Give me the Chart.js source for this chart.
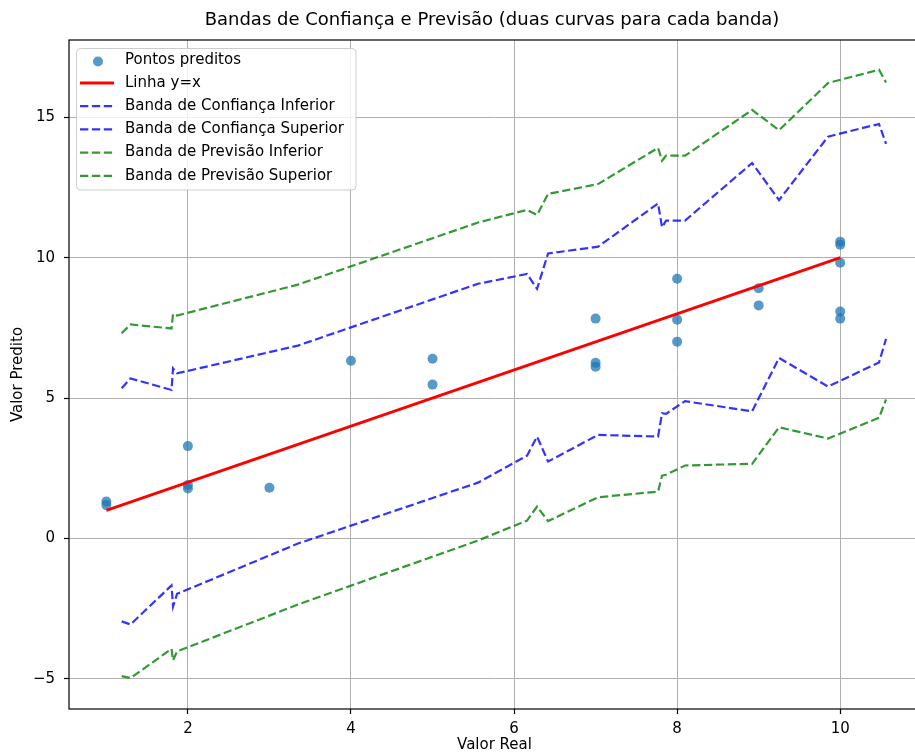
<!DOCTYPE html>
<html>
<head>
<meta charset="utf-8">
<script src="https://cdn.jsdelivr.net/npm/chart.js@4/dist/chart.umd.min.js"></script>
<style>
  html, body { margin: 0; padding: 0; background: #fff; }
  #wrap { width: 915px; height: 754px; overflow: hidden; position: relative; }
  canvas { display: block; }
</style>
</head>
<body>
<div id="wrap"><canvas id="c" width="925" height="754" style="width:925px;height:754px"></canvas></div>
<script>
// ---- data ----
const chartTitle = 'Bandas de Confiança e Previsão (duas curvas para cada banda)';
const xLabel = 'Valor Real';
const yLabel = 'Valor Predito';

const xTicks = [2, 4, 6, 8, 10];
const yTicks = [-5, 0, 5, 10, 15];

const realX = [1, 1, 2, 2, 2, 3, 4, 5, 5, 7, 7, 7, 8, 8, 8, 9, 9, 10, 10, 10, 10, 10];
const predY = [1.32, 1.19, 3.29, 1.91, 1.78, 1.81, 6.33, 6.40, 5.48, 7.83, 6.26, 6.12, 9.25, 7.79, 7.01, 8.91, 8.30, 10.57, 10.46, 9.82, 8.08, 7.83];

const lineX = [1, 10];
const lineY = [1, 10];

const bandX = [1.188, 1.296, 1.799, 1.818, 1.867, 3.350, 5.558, 6.159, 6.282, 6.417, 7.030, 7.766, 7.815, 7.864, 8.097, 8.919, 9.250, 9.851, 10.476, 10.562];
const confLower = [-2.95, -3.06, -1.67, -2.42, -1.97, -0.18, 1.99, 2.95, 3.63, 2.74, 3.69, 3.63, 4.46, 4.44, 4.89, 4.53, 6.43, 5.41, 6.27, 7.11];
const confUpper = [5.35, 5.70, 5.29, 6.06, 5.88, 6.87, 9.07, 9.42, 8.89, 10.15, 10.39, 11.93, 11.08, 11.32, 11.32, 13.37, 12.05, 14.31, 14.76, 14.05];
const predLower = [-4.90, -4.97, -3.93, -4.34, -4.02, -2.35, -0.07, 0.64, 1.14, 0.62, 1.47, 1.67, 2.24, 2.27, 2.60, 2.66, 3.96, 3.56, 4.30, 4.95];
const predUpper = [7.31, 7.62, 7.48, 8.00, 7.94, 9.04, 11.25, 11.70, 11.52, 12.27, 12.62, 13.91, 13.45, 13.63, 13.63, 15.26, 14.54, 16.22, 16.69, 16.24];

const seriesLabels = ['Pontos preditos', 'Linha y=x', 'Banda de Confiança Inferior', 'Banda de Confiança Superior', 'Banda de Previsão Inferior', 'Banda de Previsão Superior'];

// ---- build ----
const pts = (xs, ys) => xs.map((x, i) => ({ x: x, y: ys[i] }));
const FONT = "'DejaVu Sans', sans-serif";
Chart.defaults.font.family = FONT;
Chart.defaults.color = '#000';

const BLUE = 'rgba(0,0,255,0.8)';
const GREEN = 'rgba(0,128,0,0.8)';
const DASH = [8.3, 3.6];

function bandDs(label, ys, color, order) {
  return { type: 'line', label: label, data: pts(bandX, ys), borderColor: color, borderWidth: 2.2,
    borderDash: DASH, pointRadius: 0, fill: false, tension: 0, order: order, showLine: true };
}

const datasets = [
  { type: 'scatter', label: seriesLabels[0], data: pts(realX, predY), backgroundColor: 'rgba(31,119,180,0.75)',
    borderWidth: 0, pointRadius: 5, pointHoverRadius: 5, order: 10 },
  { type: 'line', label: seriesLabels[1], data: pts(lineX, lineY), borderColor: '#ff0000', borderWidth: 2.8,
    pointRadius: 0, fill: false, tension: 0, order: 9, showLine: true },
  bandDs(seriesLabels[2], confLower, BLUE, 8),
  bandDs(seriesLabels[3], confUpper, BLUE, 7),
  bandDs(seriesLabels[4], predLower, GREEN, 6),
  bandDs(seriesLabels[5], predUpper, GREEN, 5)
];

const decor = {
  id: 'decor',
  afterDatasetsDraw(chart) {
    const { ctx, chartArea: a } = chart;
    ctx.save();
    ctx.strokeStyle = '#000';
    ctx.lineWidth = 1.2;
    ctx.strokeRect(a.left, a.top, a.right - a.left, a.bottom - a.top);
    ctx.restore();
  },
  afterDraw(chart) {
    const ctx = chart.ctx;
    ctx.save();
    // title
    ctx.fillStyle = '#000';
    ctx.font = "18px " + FONT;
    ctx.textAlign = 'center';
    ctx.textBaseline = 'middle';
    ctx.fillText(chartTitle, 492, 20);
    // legend
    const L = 76.5, T = 48.5, W = 279.5, H = 141.5;
    ctx.beginPath();
    ctx.roundRect(L, T, W, H, 4);
    ctx.fillStyle = 'rgba(255,255,255,0.8)';
    ctx.fill();
    ctx.strokeStyle = '#cccccc';
    ctx.lineWidth = 1;
    ctx.stroke();
    ctx.font = "15px " + FONT;
    ctx.textAlign = 'left';
    const rows = [60, 83, 106.2, 129.4, 152.6, 175.8];
    chart.data.datasets.forEach((ds, i) => {
      const y = rows[i];
      if (ds.type === 'scatter') {
        ctx.beginPath();
        ctx.arc(98, y + 1.5, 5, 0, Math.PI * 2);
        ctx.fillStyle = ds.backgroundColor;
        ctx.fill();
      } else {
        ctx.beginPath();
        ctx.setLineDash(ds.borderDash || []);
        ctx.moveTo(80, y);
        ctx.lineTo(114, y);
        ctx.strokeStyle = ds.borderColor;
        ctx.lineWidth = ds.borderWidth;
        ctx.stroke();
        ctx.setLineDash([]);
      }
      ctx.fillStyle = '#000';
      ctx.fillText(ds.label, 125, y);
    });
    ctx.restore();
  }
};

const chart = new Chart(document.getElementById('c'), {
  type: 'scatter',
  data: { datasets: datasets },
  options: {
    responsive: false,
    devicePixelRatio: 1,
    animation: false,
    layout: { padding: { top: 40, left: 0, right: 1, bottom: 0 } },
    plugins: { legend: { display: false }, tooltip: { enabled: false }, title: { display: false } },
    scales: {
      x: {
        type: 'linear', min: 0.54, max: 11.03,
        afterBuildTicks: (s) => { s.ticks = xTicks.map(v => ({ value: v })); },
        afterFit: (s) => { s.height = 45; },
        grid: { color: '#b0b0b0', lineWidth: 1, drawTicks: true, tickLength: 5, tickColor: '#000', tickWidth: 1.2 },
        border: { display: false },
        ticks: { font: { size: 15 }, color: '#000', padding: 6, maxRotation: 0 },
        title: { display: true, text: xLabel, font: { size: 15 }, color: '#000', padding: { top: 0, bottom: 0 } }
      },
      y: {
        type: 'linear', min: -6.07, max: 17.75,
        afterBuildTicks: (s) => { s.ticks = yTicks.map(v => ({ value: v })); },
        afterFit: (s) => { s.width = 69; },
        grid: { color: '#b0b0b0', lineWidth: 1, drawTicks: true, tickLength: 5, tickColor: '#000', tickWidth: 1.2 },
        border: { display: false },
        ticks: { font: { size: 15 }, color: '#000', padding: 9, callback: (v) => String(v).replace('-', '\u2212') },
        title: { display: true, text: yLabel, font: { size: 15 }, color: '#000', padding: { top: 9, bottom: 0 } }
      }
    }
  },
  plugins: [decor]
});

// calibrate x-range to the actual plot width so that ticks land where the reference shows them
(function () {
  const a = chart.chartArea;
  const pxPerUnit = 81.54, px2 = 187.9;
  chart.options.scales.x.min = 2 - (px2 - a.left) / pxPerUnit;
  chart.options.scales.x.max = chart.options.scales.x.min + (a.right - a.left) / pxPerUnit;
  chart.update('none');
})();
</script>
</body>
</html>
